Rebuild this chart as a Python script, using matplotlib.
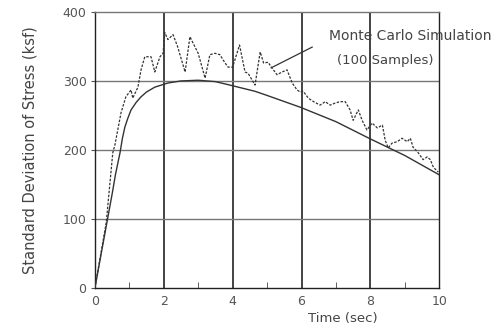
import matplotlib.pyplot as plt
from matplotlib.ticker import MultipleLocator

# analytical solution (solid)
t_exact = [0, 0.25, 0.5, 0.6, 0.73, 0.8, 0.87, 0.95, 1.05, 1.2, 1.34, 1.5, 1.74, 2.12,
           2.5, 3.0, 3.5, 3.92, 4.65, 5.0, 5.96, 7.0, 8.0, 9.0, 10.0]
sd_exact = [0, 68, 136, 165, 196, 217, 233, 245, 258, 269, 277, 284, 291, 297,
            300, 301, 299, 294, 285, 279, 262, 241, 216, 192, 164]

# Monte Carlo simulation, 100 samples (dashed)
t_mc = [0, 0.33, 0.52, 0.58, 0.76, 0.9, 1.05, 1.1, 1.25, 1.34, 1.45, 1.63, 1.74, 1.89, 1.98,
        2.03, 2.12, 2.27, 2.4, 2.62, 2.76, 2.85, 3.0, 3.2, 3.34, 3.49, 3.63, 3.78, 3.87,
        4.0, 4.2, 4.36, 4.45, 4.65, 4.8, 4.9, 5.03, 5.14, 5.29, 5.44, 5.58, 5.73, 5.87,
        5.96, 6.05, 6.2, 6.35, 6.54, 6.69, 6.83, 6.98, 7.12, 7.27, 7.41, 7.5, 7.65, 7.76,
        7.9, 8.05, 8.2, 8.35, 8.43, 8.52, 8.63, 8.78, 8.92, 9.07, 9.16, 9.24, 9.39, 9.53,
        9.65, 9.74, 9.83, 9.97]
sd_mc = [0, 95, 196, 207, 254, 277, 287, 275, 291, 316, 335, 335, 313, 335, 340,
         370, 360, 367, 350, 313, 364, 355, 340, 304, 338, 340, 338, 326, 320,
         320, 352, 313, 311, 294, 342, 326, 327, 319, 309, 313, 316, 297, 287,
         284, 285, 275, 270, 265, 270, 265, 268, 270, 270, 258, 243, 258, 243,
         229, 239, 232, 236, 214, 203, 210, 212, 217, 212, 217, 204, 196, 186,
         190, 186, 175, 168]

ink = '#333333'
fig = plt.figure(figsize=(5.02, 3.30), dpi=100)
ax = fig.add_axes([0.189, 0.127, 0.686, 0.837])

ax.plot(t_exact, sd_exact, color=ink, lw=1.0, zorder=3)
ax.plot(t_mc, sd_mc, color=ink, lw=0.9, ls=(0, (2.0, 1.2)), zorder=3)

ax.set_xlim(0, 10)
ax.set_ylim(0, 400)
ax.xaxis.set_major_locator(MultipleLocator(2))
ax.xaxis.set_minor_locator(MultipleLocator(1))
ax.yaxis.set_major_locator(MultipleLocator(100))

for x in [2, 4, 6, 8]:
    ax.axvline(x, color='#222222', lw=1.2, zorder=1)
for y in [100, 200, 300]:
    ax.axhline(y, color='#777777', lw=1.0, zorder=1)

for s in ax.spines.values():
    s.set_color('#222222')
    s.set_linewidth(1.0)
ax.spines['top'].set_color('#777777')

ax.tick_params(axis='x', which='major', length=0, pad=5, labelsize=9, colors='#555555')
ax.tick_params(axis='x', which='minor', direction='in', length=4, color='#444444')
ax.tick_params(axis='y', which='major', direction='out', length=3, pad=3, labelsize=9,
               colors='#555555')

ax.set_xlabel('Time (sec)', fontsize=9.5, color='#444444')
ax.xaxis.set_label_coords(0.72, -0.085)
ax.set_ylabel('Standard Deviation of Stress (ksf)', fontsize=10.5, color='#444444',
              labelpad=18)

ax.text(9.16, 365, 'Monte Carlo Simulation', fontsize=10, color='#444444',
        ha='center', va='center', clip_on=False)
ax.text(8.43, 330, '(100 Samples)', fontsize=9.5, color='#444444',
        ha='center', va='center', clip_on=False)
ax.plot([5.12, 6.31], [319, 349], color=ink, lw=0.9, zorder=4)

fig.savefig('out.png', dpi=100)
